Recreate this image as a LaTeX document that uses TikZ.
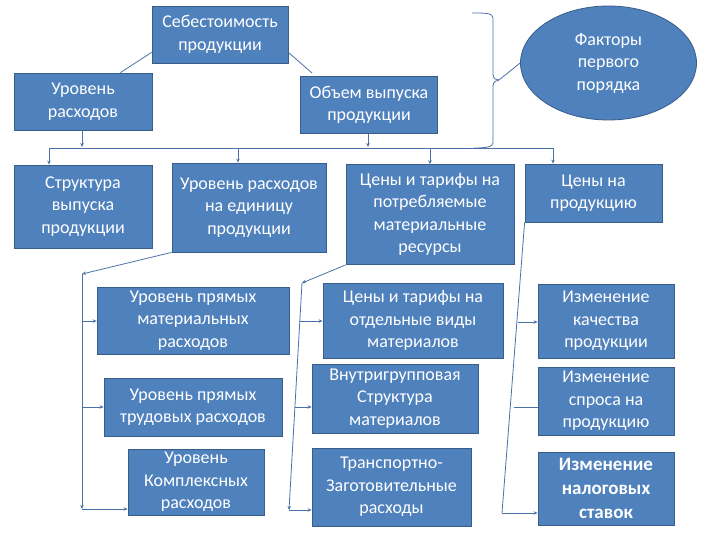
\documentclass[tikz,border=0pt]{standalone}
\usepackage{fontspec}
\setmainfont{Carlito}
\usetikzlibrary{arrows.meta,shapes.geometric,calc}
\definecolor{boxfill}{HTML}{4F81BD}
\definecolor{boxline}{HTML}{385D8A}
\definecolor{conn}{HTML}{4A72A8}
\begin{document}
\begin{tikzpicture}[x=1pt,y=-1pt,
  box/.style={draw=boxline,fill=boxfill,text=white,align=center,inner sep=1pt,line width=0.8pt,
    font=\fontsize{18}{22.5}\selectfont},
  bbox/.style={box,font=\fontsize{19}{24}\selectfont\bfseries},
  ln/.style={draw=conn,line width=0.8pt},
  arr/.style={ln,-{Stealth[length=4pt,width=3.5pt]}}]
\useasboundingbox (0,0) rectangle (720,540);
\fill[white] (0,0) rectangle (720,540);
% top level
\node[box,minimum width=136,minimum height=57] (cost) at (220,34.5) {Себестоимость\\продукции};
\node[box,minimum width=138,minimum height=57] (lev) at (83,101.5) {Уровень\\расходов};
\node[box,minimum width=137,minimum height=57] (vol) at (369,105) {Объем выпуска\\продукции};
\node[ellipse,draw=boxline,fill=boxfill,text=white,align=center,line width=0.8pt,
  minimum width=176,minimum height=114,inner sep=0pt,font=\fontsize{18}{22.5}\selectfont] (ell) at (608.5,63) {Факторы\\первого\\порядка};
% second row
\node[box,minimum width=138,minimum height=83] (struct) at (83,206.5) {Структура\\выпуска\\продукции};
\node[box,minimum width=154,minimum height=89] (unit) at (249,207.5) {Уровень расходов\\на единицу\\продукции};
\node[box,minimum width=168,minimum height=100] (price) at (430,214.5) {Цены и тарифы на\\потребляемые\\материальные\\ресурсы};
\node[box,minimum width=137,minimum height=58] (prod) at (593.5,193) {Цены на\\продукцию};
% third level left
\node[box,minimum width=192,minimum height=67] (mat) at (193,320.5) {Уровень прямых\\материальных\\расходов};
\node[box,minimum width=178,minimum height=58] (lab) at (193,407) {Уровень прямых\\трудовых расходов};
\node[box,minimum width=136,minimum height=66] (cx) at (196,482) {Уровень\\Комплексных\\расходов};
% third level middle
\node[box,minimum width=180,minimum height=75] (pm) at (413,320.5) {Цены и тарифы на\\отдельные виды\\материалов};
\node[box,minimum width=166,minimum height=69] (intra) at (395,398.5) {Внутригрупповая\\Структура\\материалов};
\node[box,minimum width=159,minimum height=78] (trans) at (391.5,487) {Транспортно-\\Заготовительные\\расходы};
% third level right
\node[box,minimum width=136,minimum height=74] (q) at (606,321) {Изменение\\качества\\продукции};
\node[box,minimum width=136,minimum height=68] (dem) at (606,401) {Изменение\\спроса на\\продукцию};
\node[bbox,minimum width=136,minimum height=73] (tax) at (606,488.5) {Изменение\\налоговых\\ставок};
% links from cost
\draw[ln] ($(cost.south west)+(0,-11)$) -- ($(lev.north east)+(-32,0)$);
\draw[ln] ($(cost.south east)+(0,-11)$) -- ($(vol.north west)+(12,-3)$);
% bus
\coordinate (busL) at (49,148);
\coordinate (busR) at (553,148);
\draw[ln] (busL) -- (busR);
\draw[arr] (lev.south -| 82,0) -- (82,147);
\draw[arr] (vol.south -| 368,0) -- (368,147);
\draw[arr] (busL) -- (struct.north -| busL);
\draw[arr] (238,148) -- (unit.north -| 238,0);
\draw[arr] (430,148) -- (price.north);
\draw[arr] (busR) -- (prod.north -| busR);
% brace
\coordinate (bt) at (472,13);
\coordinate (bb) at (474,148);
\draw[ln] (bt) .. controls (485,13) and (493,13) .. (493,18) -- (493,74)
  .. controls (493,79) and (496,80) .. (499,80) -- (ell.west)
  (499,80) .. controls (496,80) and (493,82) .. (493,86) -- (493,143)
  .. controls (493,147) and (485,148) .. (bb);
% left tree
\coordinate (lt) at (82,274);
\coordinate (lb) at (82,509);
\draw[arr] (unit.south west) -- (lt);
\draw[arr] (lt) -- (lb);
\draw[arr] (82,321) -- (mat.west |- 0,321);
\draw[arr] (82,407) -- (lab.west |- 0,407);
\draw[arr] (lb) -- (cx.west |- lb);
% middle tree
\coordinate (mt) at (302,283);
\coordinate (mb) at (289,510);
\draw[arr] (price.south west) -- (mt);
\draw[arr] (mt) -- (mb);
\draw[arr] (299.8,321) -- (pm.west |- 0,321);
\draw[arr] (294.9,407) -- (intra.west |- 0,407);
\draw[arr] (mb) -- (trans.west |- mb);
% right tree
\coordinate (rb) at (502,513);
\draw[ln] (prod.south west) -- (rb);
\draw[arr] (518.2,322) -- (q.west |- 0,322);
\draw[ln] (513.5,407) -- (dem.west |- 0,407);
\draw[arr] (rb) -- (tax.west |- rb);
\end{tikzpicture}
\end{document}
